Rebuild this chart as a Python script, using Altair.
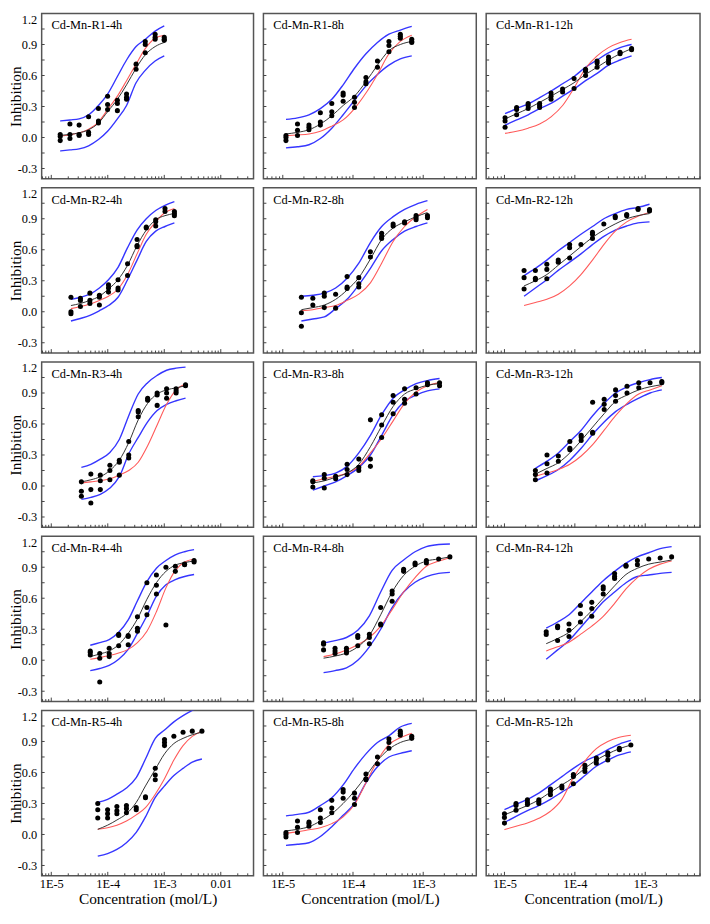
import altair as alt
import pandas as pd

FONT = "Liberation Serif, Times New Roman, Times, serif"

# ---------------- data ----------------
# Each panel: doses (mol/L), inhibition replicates per dose, fitted curve (black),
# reference curve (red), upper / lower confidence bands (blue), all at the doses.

R1_4H_CONC = [1.44e-5, 2.14e-5, 3.11e-5, 4.58e-5, 6.84e-5, 9.93e-5, 1.48e-4, 2.15e-4, 3.17e-4, 4.61e-4, 6.89e-4, 1.00e-3]
R1_4H_PTS = [[0.03, 0.01, -0.03], [0.13, 0.03, -0.01], [0.12, 0.03, 0.02], [0.20, 0.05, 0.03], [0.28, 0.16, 0.14], [0.40, 0.32, 0.27], [0.36, 0.33, 0.26], [0.42, 0.39, 0.37], [0.71, 0.66], [0.93, 0.90, 0.82], [1.00, 0.97, 0.95], [0.97, 0.94, 0.95]]
R1_4H_FIT = [0.02, 0.03, 0.045, 0.075, 0.14, 0.25, 0.37, 0.51, 0.67, 0.80, 0.88, 0.92]
R1_4H_RED = [0.015, 0.025, 0.045, 0.08, 0.15, 0.27, 0.40, 0.55, 0.71, 0.86, 0.96, 0.99]
R1_4H_UP = [0.16, 0.17, 0.18, 0.22, 0.31, 0.42, 0.59, 0.75, 0.88, 0.95, 1.03, 1.08]
R1_4H_LO = [-0.13, -0.12, -0.11, -0.08, -0.02, 0.06, 0.18, 0.31, 0.53, 0.65, 0.74, 0.79]

R1_8H_CONC = [1.11e-5, 1.62e-5, 2.36e-5, 3.43e-5, 4.99e-5, 7.24e-5, 1.05e-4, 1.53e-4, 2.23e-4, 3.25e-4, 4.72e-4, 6.87e-4]
R1_8H_PTS = [[0.02, 0.0, -0.03], [0.13, 0.07, 0.02], [0.12, 0.10, 0.075], [0.24, 0.15, 0.12], [0.33, 0.25, 0.21], [0.43, 0.41, 0.35], [0.39, 0.34, 0.29], [0.58, 0.54, 0.52], [0.74, 0.68], [0.93, 0.89, 0.83], [1.00, 0.98, 0.96], [0.95, 0.93, 0.92]]
R1_8H_FIT = [0.034, 0.05, 0.075, 0.13, 0.21, 0.31, 0.40, 0.54, 0.70, 0.84, 0.90, 0.93]
R1_8H_RED = [0.02, 0.025, 0.034, 0.06, 0.11, 0.17, 0.28, 0.43, 0.61, 0.81, 0.93, 0.99]
R1_8H_UP = [0.175, 0.19, 0.22, 0.28, 0.37, 0.51, 0.67, 0.81, 0.92, 1.0, 1.04, 1.075]
R1_8H_LO = [-0.10, -0.09, -0.07, -0.01, 0.09, 0.22, 0.36, 0.50, 0.61, 0.70, 0.76, 0.79]

R1_12H_CONC = [1.02e-5, 1.49e-5, 2.17e-5, 3.16e-5, 4.59e-5, 6.70e-5, 9.75e-5, 1.42e-4, 2.07e-4, 3.01e-4, 4.39e-4, 6.40e-4]
R1_12H_PTS = [[0.19, 0.16, 0.10], [0.29, 0.27, 0.22], [0.33, 0.31, 0.28], [0.33, 0.31, 0.29], [0.43, 0.40, 0.37], [0.47, 0.44], [0.57, 0.475], [0.66, 0.64, 0.60], [0.74, 0.72, 0.68], [0.78, 0.75, 0.72], [0.825, 0.81], [0.86, 0.85]]
R1_12H_FIT = [0.18, 0.23, 0.28, 0.34, 0.40, 0.465, 0.53, 0.61, 0.68, 0.75, 0.81, 0.86]
R1_12H_RED = [0.04, 0.06, 0.09, 0.13, 0.20, 0.31, 0.48, 0.67, 0.79, 0.87, 0.92, 0.95]
R1_12H_UP = [0.23, 0.28, 0.325, 0.385, 0.45, 0.52, 0.59, 0.68, 0.75, 0.82, 0.87, 0.90]
R1_12H_LO = [0.12, 0.17, 0.22, 0.28, 0.33, 0.40, 0.47, 0.55, 0.62, 0.70, 0.75, 0.79]

R2_4H_CONC = [2.23e-5, 3.28e-5, 4.83e-5, 7.11e-5, 1.03e-4, 1.52e-4, 2.24e-4, 3.30e-4, 4.80e-4, 7.06e-4, 1.03e-3, 1.51e-3]
R2_4H_PTS = [[0.14, 0.0, -0.02], [0.13, 0.11, 0.05], [0.18, 0.11, 0.08], [0.16, 0.14, 0.065], [0.26, 0.23, 0.19], [0.31, 0.23, 0.21], [0.465, 0.35], [0.70, 0.64, 0.63], [0.82, 0.81], [0.89, 0.87, 0.83], [1.0, 0.97], [0.97, 0.95, 0.93]]
R2_4H_FIT = [0.06, 0.08, 0.11, 0.15, 0.22, 0.31, 0.45, 0.64, 0.79, 0.89, 0.93, 0.95]
R2_4H_RED = [0.03, 0.05, 0.075, 0.11, 0.15, 0.22, 0.36, 0.56, 0.75, 0.87, 0.96, 1.0]
R2_4H_UP = [0.12, 0.14, 0.17, 0.23, 0.31, 0.43, 0.62, 0.79, 0.90, 0.98, 1.03, 1.065]
R2_4H_LO = [-0.09, -0.065, -0.035, 0.01, 0.06, 0.14, 0.31, 0.50, 0.68, 0.78, 0.825, 0.86]

R2_8H_CONC = [1.84e-5, 2.68e-5, 3.90e-5, 5.66e-5, 8.24e-5, 1.21e-4, 1.77e-4, 2.56e-4, 3.73e-4, 5.43e-4, 7.91e-4, 1.15e-3]
R2_8H_PTS = [[0.14, -0.01, -0.14], [0.13, 0.065], [0.18, 0.15, 0.04], [0.17, 0.035], [0.34, 0.24, 0.225], [0.33, 0.27, 0.24], [0.58, 0.53], [0.76, 0.73, 0.71], [0.85, 0.83], [0.87, 0.86], [0.93, 0.91, 0.89], [0.93, 0.91]]
R2_8H_FIT = [0.02, 0.04, 0.065, 0.12, 0.21, 0.33, 0.51, 0.70, 0.81, 0.87, 0.92, 0.96]
R2_8H_RED = [0.01, 0.02, 0.04, 0.06, 0.11, 0.17, 0.28, 0.47, 0.68, 0.825, 0.92, 0.99]
R2_8H_UP = [0.15, 0.16, 0.18, 0.23, 0.325, 0.47, 0.67, 0.825, 0.92, 0.99, 1.04, 1.075]
R2_8H_LO = [-0.09, -0.07, -0.05, 0.03, 0.12, 0.26, 0.42, 0.59, 0.70, 0.78, 0.825, 0.86]

R2_12H_CONC = [1.90e-5, 2.75e-5, 4.00e-5, 5.81e-5, 8.43e-5, 1.22e-4, 1.78e-4, 2.58e-4, 3.75e-4, 5.45e-4, 7.91e-4, 1.15e-3]
R2_12H_PTS = [[0.40, 0.33, 0.22], [0.40, 0.325, 0.31], [0.46, 0.41, 0.32], [0.50, 0.48], [0.65, 0.62, 0.52], [0.65], [0.77, 0.75, 0.71], [0.85], [0.925, 0.91], [0.94, 0.93], [1.0, 0.99], [0.99, 0.975]]
R2_12H_FIT = [0.25, 0.30, 0.36, 0.45, 0.54, 0.63, 0.72, 0.79, 0.85, 0.90, 0.93, 0.95]
R2_12H_RED = [0.06, 0.09, 0.12, 0.17, 0.25, 0.36, 0.50, 0.65, 0.78, 0.87, 0.925, 0.96]
R2_12H_UP = [0.35, 0.42, 0.50, 0.59, 0.67, 0.75, 0.825, 0.90, 0.95, 0.99, 1.01, 1.04]
R2_12H_LO = [0.15, 0.23, 0.31, 0.40, 0.48, 0.56, 0.65, 0.73, 0.79, 0.83, 0.86, 0.87]

R3_4H_CONC = [3.41e-5, 5.02e-5, 7.38e-5, 1.09e-4, 1.60e-4, 2.35e-4, 3.46e-4, 5.08e-4, 7.48e-4, 1.10e-3, 1.62e-3, 2.38e-3]
R3_4H_PTS = [[0.04, -0.05, -0.10], [0.115, -0.035, -0.165], [0.105, 0.05, -0.035], [0.20, 0.15, 0.06], [0.25, 0.23, 0.105], [0.43, 0.30, 0.27], [0.73, 0.715, 0.67], [0.85, 0.83], [0.90, 0.88, 0.78], [0.94, 0.90, 0.85], [0.94, 0.92, 0.90], [0.98, 0.97]]
R3_4H_FIT = [0.04, 0.06, 0.09, 0.15, 0.25, 0.42, 0.64, 0.80, 0.89, 0.93, 0.95, 0.97]
R3_4H_RED = [0.03, 0.04, 0.05, 0.07, 0.105, 0.15, 0.23, 0.39, 0.59, 0.79, 0.93, 0.99]
R3_4H_UP = [0.18, 0.21, 0.26, 0.325, 0.45, 0.68, 0.89, 1.0, 1.07, 1.12, 1.14, 1.15]
R3_4H_LO = [-0.13, -0.11, -0.08, -0.02, 0.09, 0.31, 0.47, 0.62, 0.73, 0.79, 0.825, 0.85]

R3_8H_CONC = [2.68e-5, 3.90e-5, 5.66e-5, 8.24e-5, 1.21e-4, 1.77e-4, 2.56e-4, 3.73e-4, 5.43e-4, 7.91e-4, 1.15e-3, 1.71e-3]
R3_8H_PTS = [[0.05, 0.04, -0.01], [0.11, 0.075, -0.02], [0.095, 0.07], [0.21, 0.16, 0.11], [0.26, 0.18, 0.15], [0.64, 0.26, 0.19], [0.69, 0.59, 0.47], [0.875, 0.81, 0.70], [0.94, 0.84, 0.80], [0.95, 0.89], [1.0, 0.98], [1.0, 0.97]]
R3_8H_FIT = [0.03, 0.05, 0.085, 0.125, 0.21, 0.38, 0.58, 0.77, 0.89, 0.94, 0.975, 0.99]
R3_8H_RED = [0.045, 0.07, 0.095, 0.125, 0.19, 0.32, 0.46, 0.63, 0.80, 0.91, 0.97, 1.0]
R3_8H_UP = [0.09, 0.10, 0.125, 0.19, 0.32, 0.49, 0.69, 0.85, 0.93, 0.99, 1.02, 1.04]
R3_8H_LO = [-0.04, 0.0, 0.04, 0.10, 0.18, 0.30, 0.49, 0.69, 0.82, 0.88, 0.92, 0.94]

R3_12H_CONC = [2.75e-5, 4.02e-5, 5.83e-5, 8.49e-5, 1.23e-4, 1.79e-4, 2.61e-4, 3.79e-4, 5.51e-4, 8.09e-4, 1.17e-3, 1.72e-3]
R3_12H_PTS = [[0.15, 0.11, 0.06], [0.30, 0.215, 0.125], [0.29, 0.24], [0.43, 0.365, 0.35], [0.49, 0.475, 0.44], [0.81, 0.52, 0.51], [0.84, 0.79, 0.74], [0.93, 0.875, 0.82], [0.965, 0.90], [1.0, 0.95], [1.0], [1.01, 1.0]]
R3_12H_FIT = [0.115, 0.17, 0.225, 0.32, 0.44, 0.57, 0.70, 0.82, 0.88, 0.93, 0.96, 0.98]
R3_12H_RED = [0.095, 0.125, 0.16, 0.21, 0.29, 0.40, 0.54, 0.68, 0.80, 0.89, 0.93, 0.97]
R3_12H_UP = [0.17, 0.24, 0.32, 0.43, 0.54, 0.68, 0.80, 0.90, 0.96, 1.0, 1.03, 1.05]
R3_12H_LO = [0.05, 0.10, 0.16, 0.25, 0.365, 0.50, 0.62, 0.72, 0.79, 0.85, 0.90, 0.93]

R4_4H_CONC = [4.90e-5, 7.21e-5, 1.06e-4, 1.56e-4, 2.30e-4, 3.35e-4, 4.93e-4, 7.26e-4, 1.07e-3, 1.57e-3, 2.29e-3, 3.37e-3]
R4_4H_PTS = [[0.09, 0.075, 0.05], [0.065, 0.02, -0.21], [0.115, 0.065, 0.035], [0.25, 0.24, 0.14], [0.24, 0.23, 0.15], [0.42, 0.31, 0.28], [0.75, 0.51, 0.44], [0.825, 0.725, 0.64], [0.90, 0.34], [0.91, 0.86], [0.93, 0.925], [0.965, 0.95]]
R4_4H_FIT = [0.035, 0.06, 0.09, 0.15, 0.26, 0.40, 0.59, 0.75, 0.86, 0.92, 0.945, 0.96]
R4_4H_RED = [0.01, 0.025, 0.045, 0.07, 0.105, 0.17, 0.28, 0.47, 0.70, 0.87, 0.95, 0.98]
R4_4H_UP = [0.145, 0.17, 0.20, 0.27, 0.39, 0.575, 0.76, 0.89, 0.965, 1.02, 1.05, 1.07]
R4_4H_LO = [-0.10, -0.08, -0.05, 0.01, 0.105, 0.26, 0.43, 0.62, 0.73, 0.78, 0.81, 0.83]

R4_8H_CONC = [3.81e-5, 5.55e-5, 8.07e-5, 1.17e-4, 1.71e-4, 2.48e-4, 3.61e-4, 5.26e-4, 7.66e-4, 1.11e-3, 1.66e-3, 2.40e-3]
R4_8H_PTS = [[0.17, 0.155, 0.10], [0.115, 0.09, 0.065], [0.115, 0.09, 0.07], [0.24, 0.22, 0.14], [0.25, 0.22, 0.16], [0.51, 0.35, 0.34], [0.67, 0.64, 0.57], [0.88, 0.86], [0.94, 0.925], [0.965, 0.94], [0.98], [1.0]]
R4_8H_FIT = [0.02, 0.04, 0.07, 0.13, 0.24, 0.44, 0.66, 0.82, 0.91, 0.96, 0.98, 1.0]
R4_8H_RED = [0.035, 0.06, 0.10, 0.15, 0.22, 0.33, 0.49, 0.66, 0.80, 0.91, 0.96, 0.99]
R4_8H_UP = [0.165, 0.19, 0.22, 0.29, 0.43, 0.66, 0.87, 0.97, 1.05, 1.10, 1.12, 1.125]
R4_8H_LO = [-0.12, -0.10, -0.075, 0.0, 0.13, 0.30, 0.51, 0.66, 0.755, 0.81, 0.84, 0.85]

R4_12H_CONC = [3.92e-5, 5.69e-5, 8.26e-5, 1.20e-4, 1.74e-4, 2.53e-4, 3.67e-4, 5.33e-4, 7.74e-4, 1.12e-3, 1.63e-3, 2.37e-3]
R4_12H_PTS = [[0.275, 0.25], [0.33, 0.315, 0.19], [0.35, 0.29, 0.23], [0.53, 0.45, 0.37], [0.56, 0.50, 0.425], [0.71, 0.69, 0.64], [0.84, 0.81, 0.79], [0.92, 0.91], [0.965, 0.925], [0.98], [0.99], [1.0]]
R4_12H_FIT = [0.16, 0.21, 0.27, 0.37, 0.48, 0.60, 0.72, 0.83, 0.89, 0.93, 0.95, 0.97]
R4_12H_RED = [0.09, 0.13, 0.175, 0.25, 0.33, 0.425, 0.55, 0.69, 0.80, 0.88, 0.93, 0.96]
R4_12H_UP = [0.31, 0.37, 0.44, 0.55, 0.66, 0.77, 0.86, 0.94, 1.0, 1.04, 1.08, 1.10]
R4_12H_LO = [0.01, 0.10, 0.19, 0.315, 0.44, 0.565, 0.66, 0.75, 0.81, 0.825, 0.84, 0.85]

R5_4H_CONC = [6.65e-5, 9.93e-5, 1.45e-4, 2.14e-4, 3.19e-4, 4.65e-4, 6.93e-4, 1.01e-3, 1.48e-3, 2.15e-3, 3.13e-3, 4.64e-3]
R5_4H_PTS = [[0.30, 0.24, 0.16], [0.24, 0.20, 0.16], [0.27, 0.23, 0.20], [0.28, 0.25, 0.21], [0.26, 0.24], [0.365, 0.355], [0.64, 0.575, 0.53], [0.92, 0.89, 0.86], [0.95], [0.99], [1.0], [1.0]]
R5_4H_FIT = [0.05, 0.09, 0.14, 0.20, 0.31, 0.47, 0.63, 0.78, 0.88, 0.93, 0.965, 0.99]
R5_4H_RED = [0.05, 0.065, 0.09, 0.13, 0.19, 0.26, 0.39, 0.54, 0.72, 0.86, 0.95, 1.0]
R5_4H_UP = [0.31, 0.34, 0.39, 0.45, 0.55, 0.73, 0.93, 1.01, 1.09, 1.15, 1.20, 1.25]
R5_4H_LO = [-0.21, -0.185, -0.145, -0.08, 0.02, 0.17, 0.36, 0.47, 0.57, 0.64, 0.70, 0.73]

R5_8H_CONC = [1.11e-5, 1.62e-5, 2.36e-5, 3.43e-5, 4.99e-5, 7.24e-5, 1.05e-4, 1.53e-4, 2.23e-4, 3.25e-4, 4.72e-4, 6.87e-4]
R5_8H_PTS = [[0.02, 0.0, -0.025], [0.13, 0.07, 0.02], [0.12, 0.105, 0.08], [0.24, 0.16, 0.115], [0.33, 0.255, 0.21], [0.435, 0.41, 0.35], [0.40, 0.35, 0.29], [0.585, 0.54, 0.53], [0.75, 0.685], [0.925, 0.89, 0.835], [1.0, 0.98, 0.96], [0.95, 0.93]]
R5_8H_FIT = [0.035, 0.05, 0.075, 0.13, 0.20, 0.30, 0.42, 0.565, 0.715, 0.825, 0.89, 0.92]
R5_8H_RED = [0.0125, 0.025, 0.045, 0.065, 0.105, 0.17, 0.29, 0.50, 0.715, 0.87, 0.935, 0.98]
R5_8H_UP = [0.18, 0.195, 0.215, 0.28, 0.355, 0.48, 0.64, 0.78, 0.89, 0.955, 1.04, 1.075]
R5_8H_LO = [-0.105, -0.095, -0.08, -0.02, 0.075, 0.185, 0.30, 0.50, 0.655, 0.75, 0.785, 0.81]

R5_12H_CONC = [1.00e-5, 1.46e-5, 2.12e-5, 3.08e-5, 4.50e-5, 6.55e-5, 9.53e-5, 1.39e-4, 2.02e-4, 2.94e-4, 4.29e-4, 6.25e-4]
R5_12H_PTS = [[0.20, 0.165, 0.11], [0.30, 0.28, 0.235], [0.335, 0.31, 0.29], [0.335, 0.32, 0.30], [0.44, 0.415, 0.385], [0.47, 0.45], [0.58, 0.56, 0.49], [0.67, 0.64, 0.61], [0.74, 0.72, 0.69], [0.79, 0.765, 0.72], [0.835, 0.82], [0.865]]
R5_12H_FIT = [0.19, 0.235, 0.28, 0.335, 0.41, 0.48, 0.55, 0.64, 0.72, 0.78, 0.83, 0.865]
R5_12H_RED = [0.047, 0.08, 0.11, 0.156, 0.225, 0.34, 0.55, 0.71, 0.83, 0.90, 0.94, 0.96]
R5_12H_UP = [0.24, 0.29, 0.34, 0.40, 0.48, 0.56, 0.64, 0.71, 0.76, 0.82, 0.875, 0.91]
R5_12H_LO = [0.115, 0.175, 0.23, 0.28, 0.34, 0.41, 0.48, 0.57, 0.66, 0.72, 0.77, 0.80]

ROW_NAMES = ["R1", "R2", "R3", "R4", "R5"]
TIME_NAMES = ["4h", "8h", "12h"]
Y_LABELS = [-0.3, 0.0, 0.3, 0.6, 0.9, 1.2]
Y_TICKS = [-0.3, -0.15, 0.0, 0.15, 0.3, 0.45, 0.6, 0.75, 0.9, 1.05]

PANELS = [
    [(R1_4H_CONC, R1_4H_PTS, R1_4H_FIT, R1_4H_RED, R1_4H_UP, R1_4H_LO),
     (R1_8H_CONC, R1_8H_PTS, R1_8H_FIT, R1_8H_RED, R1_8H_UP, R1_8H_LO),
     (R1_12H_CONC, R1_12H_PTS, R1_12H_FIT, R1_12H_RED, R1_12H_UP, R1_12H_LO)],
    [(R2_4H_CONC, R2_4H_PTS, R2_4H_FIT, R2_4H_RED, R2_4H_UP, R2_4H_LO),
     (R2_8H_CONC, R2_8H_PTS, R2_8H_FIT, R2_8H_RED, R2_8H_UP, R2_8H_LO),
     (R2_12H_CONC, R2_12H_PTS, R2_12H_FIT, R2_12H_RED, R2_12H_UP, R2_12H_LO)],
    [(R3_4H_CONC, R3_4H_PTS, R3_4H_FIT, R3_4H_RED, R3_4H_UP, R3_4H_LO),
     (R3_8H_CONC, R3_8H_PTS, R3_8H_FIT, R3_8H_RED, R3_8H_UP, R3_8H_LO),
     (R3_12H_CONC, R3_12H_PTS, R3_12H_FIT, R3_12H_RED, R3_12H_UP, R3_12H_LO)],
    [(R4_4H_CONC, R4_4H_PTS, R4_4H_FIT, R4_4H_RED, R4_4H_UP, R4_4H_LO),
     (R4_8H_CONC, R4_8H_PTS, R4_8H_FIT, R4_8H_RED, R4_8H_UP, R4_8H_LO),
     (R4_12H_CONC, R4_12H_PTS, R4_12H_FIT, R4_12H_RED, R4_12H_UP, R4_12H_LO)],
    [(R5_4H_CONC, R5_4H_PTS, R5_4H_FIT, R5_4H_RED, R5_4H_UP, R5_4H_LO),
     (R5_8H_CONC, R5_8H_PTS, R5_8H_FIT, R5_8H_RED, R5_8H_UP, R5_8H_LO),
     (R5_12H_CONC, R5_12H_PTS, R5_12H_FIT, R5_12H_RED, R5_12H_UP, R5_12H_LO)],
]

# ---------------- layout ----------------
WIDTHS = [214, 215, 216]
HEIGHT = 167
XDOMS = [[6.76e-6, 3.8e-2], [5.3e-6, 5.7e-3], [5.5e-6, 6.0e-3]]
XLABELS = [[1e-5, 1e-4, 1e-3, 1e-2], [1e-5, 1e-4, 1e-3], [1e-5, 1e-4, 1e-3]]

BLUE = "#3636ff"
RED = "#ff5a5a"
BLACK_LINE = "#333333"
TICK = "#444444"


def tick_positions(dom):
    major, minor = [], []
    for d in range(-7, 0):
        for k in range(1, 10):
            v = k * 10.0 ** d
            if dom[0] <= v <= dom[1]:
                (major if k == 1 else minor).append(v)
    return major, minor


def make_panel(r, c):
    conc, pts, fit, red, up, lo = PANELS[r][c]
    name = f"Cd-Mn-{ROW_NAMES[r]}-{TIME_NAMES[c]}"
    W, H = WIDTHS[c], HEIGHT
    xs = alt.Scale(type="log", domain=XDOMS[c], nice=False)
    ys = alt.Scale(domain=[-0.4, 1.2], nice=False, zero=False)

    if r == 4:
        xaxis = alt.Axis(
            values=XLABELS[c],
            labelExpr="datum.value > 0.005 ? '0.01' : datum.value > 0.0005 ? '1E-3' : datum.value > 0.00005 ? '1E-4' : '1E-5'",
            ticks=False, domain=False, grid=False,
            labelFont=FONT, labelFontSize=12.5, labelColor="black", labelPadding=2,
            labelFlush=False, labelOverlap=False,
            title="Concentration (mol/L)", titleFont=FONT, titleFontSize=15.5,
            titleFontWeight="normal", titleColor="black", titlePadding=1,
        )
    else:
        xaxis = None
    if c == 0:
        yaxis = alt.Axis(
            values=Y_LABELS,
            labelExpr="datum.value < 0 ? '-' + format(-datum.value, '.1f') : format(datum.value, '.1f')",
            ticks=False, domain=False, grid=False,
            labelFont=FONT, labelFontSize=12.5, labelColor="black", labelPadding=5,
            labelBaseline={"condition": {"test": "datum.value > 1.1", "value": "top"}, "value": "middle"},
            title="Inhibition", titleFont=FONT, titleFontSize=15.5, titleFontWeight="normal",
            titleColor="black", titleX=-21, titleY=H / 2, titleAngle=270,
            titleBaseline="alphabetic", titleAlign="center",
        )
    else:
        yaxis = None

    X = alt.X("conc:Q", scale=xs, axis=xaxis)
    Y = alt.Y("inh:Q", scale=ys, axis=yaxis)

    major, minor = tick_positions(XDOMS[c])
    df_major = pd.DataFrame({"conc": major})
    df_minor = pd.DataFrame({"conc": minor})
    df_yt = pd.DataFrame({"inh": Y_TICKS})

    df_pts = pd.DataFrame(
        [{"conc": x, "inh": v} for x, vals in zip(conc, pts) for v in vals]
    )
    df_fit = pd.DataFrame({"conc": conc, "inh": fit})
    df_red = pd.DataFrame({"conc": conc, "inh": red})
    df_band = pd.DataFrame(
        [{"conc": x, "inh": v, "s": "upper"} for x, v in zip(conc, up)]
        + [{"conc": x, "inh": v, "s": "lower"} for x, v in zip(conc, lo)]
    )
    df_title = pd.DataFrame({"label": [name]})

    layers = [
        alt.Chart(df_major).mark_rule(color=TICK, strokeWidth=1).encode(
            x=X, y=alt.value(H), y2=alt.value(H - 4)),
        alt.Chart(df_minor).mark_rule(color=TICK, strokeWidth=1).encode(
            x=X, y=alt.value(H), y2=alt.value(H - 2.5)),
        alt.Chart(df_yt).mark_rule(color=TICK, strokeWidth=1).encode(
            y=Y, x=alt.value(0), x2=alt.value(3)),
        alt.Chart(df_band).mark_line(color=BLUE, strokeWidth=1.4, interpolate="monotone", clip=True).encode(
            x=X, y=Y, detail="s:N"),
        alt.Chart(df_red).mark_line(color=RED, strokeWidth=1.1, interpolate="monotone", clip=True).encode(
            x=X, y=Y),
        alt.Chart(df_fit).mark_line(color=BLACK_LINE, strokeWidth=1.0, interpolate="monotone", clip=True).encode(
            x=X, y=Y),
        alt.Chart(df_pts).mark_circle(color="black", size=26, opacity=1, clip=True).encode(
            x=X, y=Y),
        alt.Chart(df_title).mark_text(align="left", baseline="middle", font=FONT,
                                      fontSize=12.5, color="black").encode(
            x=alt.value(10), y=alt.value(12), text="label:N"),
    ]
    return alt.layer(*layers).properties(width=W, height=H)


panels = [make_panel(r, c) for r in range(5) for c in range(3)]

chart = (
    alt.concat(*panels, columns=3, spacing={"row": 9, "column": 10}, bounds="flush")
    .properties(padding=0, background="white")
    .configure_view(stroke="#555555", strokeWidth=1.5, fill="white")
)

chart.save("out.html", embed_options={"renderer": "svg", "actions": False})
